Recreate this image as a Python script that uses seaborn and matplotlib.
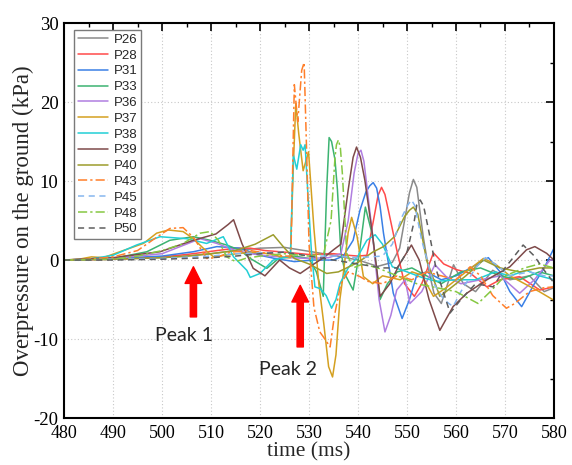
import numpy as np
import pandas as pd
import matplotlib
matplotlib.use("Agg")
import matplotlib.pyplot as plt
import seaborn as sns

sns.set_theme(style="white")
plt.rcParams['axes.unicode_minus'] = False
plt.rcParams['font.family'] = ['Liberation Serif', 'DejaVu Serif']

# ---------------- data (time in ms, overpressure in kPa) ----------------
P26_t = [480, 490, 500, 505, 510, 515, 520, 525, 530, 535, 540, 544, 547, 548.5, 549.5, 550.5, 551.3, 552,
         553.3, 554.5, 555.5, 557, 558.3, 559.5, 561.5, 564, 567.5, 571, 575, 578, 580]
P26_p = [0, 0.1, 0.3, 0.5, 0.8, 1.2, 1.5, 1.6, 1.1, 0.6, 0, -0.8, -0.3, 1.5, 5, 8.5, 10.2, 9.2,
         3, -1.5, -4.2, -5.5, -3, -0.6, -3, -4, -1.3, -2.5, -2, -4, -3.5]

P28_t = [480, 490, 500, 505, 510, 515, 518, 521, 525, 530, 535, 538, 540, 541.8, 543.3, 544.1, 544.8, 545.5,
         546.3, 547.9, 549.5, 551.5, 553, 555.4, 557.5, 560, 563, 566.3, 569, 573, 577.1, 580]
P28_p = [0, 0.1, 0.4, 0.7, 1.1, 1.5, 1.5, 1.2, 1.0, 0.7, 0.8, 0.6, 0.5, 0.6, 5.5, 8.2, 9.2, 8.3,
         6, 1.3, -3, -4.6, -3, 0.9, -0.5, -1.2, -1.7, -3.4, -2.5, -2.1, -3.8, -3.4]

P31_t = [480, 490, 500, 506.4, 511.2, 515.9, 520, 523, 527, 531, 535, 537, 539, 540.4, 541.6, 542.4, 543.1,
         543.8, 544.5, 545.2, 547.2, 549, 550.5, 552, 554, 557, 560, 563, 566.6, 569, 571, 573.4, 576, 578, 580]
P31_p = [0, 0.2, 0.5, 1.05, 1.7, 1.5, 0.6, 0.2, -0.2, 0, 0, 0.5, 2.5, 6.3, 8.6, 9.4, 9.8,
         9.1, 6.8, 3.4, -4.2, -7.4, -5, -1.9, -1.5, -2.5, -2, -1, 0.3, -1.5, -4, -5.9, -3, -1, 1.5]

P33_t = [480, 490, 496.9, 501.6, 506.4, 509.8, 513.2, 516, 518, 521.4, 524, 527, 530, 531.5, 532.9,
         533.6, 534.1, 534.6, 535.3, 535.8, 536.5, 537.5, 539, 540.3, 541.5, 543, 544.5, 546, 548,
         551, 554, 557, 561, 565, 569, 573, 577, 580]
P33_p = [0, 0.2, 1.05, 2.5, 2.95, 2.5, 1.9, 1.2, 0.2, -1.05, 0.3, 0.5, 0.2, -1.5, -4.6,
         8.9, 15.5, 15, 12.7, 8.9, 1, -2, -3.8, 1, 6.7, 3, -5, -3, -1.5,
         -1, -2, -3, -1.5, -1, -2, -2.5, -1.5, -2]

P36_t = [480, 490, 500, 507.8, 511.2, 514.6, 518, 522, 526, 530, 534, 536.5, 538, 539.2, 540, 540.6, 541.2,
         541.9, 543, 544.3, 545.5, 546.7, 547.9, 549.6, 550.6, 553, 555.7, 558, 561, 565, 569, 573, 576,
         579.2, 580]
P36_p = [0, 0.2, 0.8, 2.7, 2.1, 1.3, 0.8, 0.5, 0.3, 0.2, 0.3, 0.8, 5, 11, 13.5, 13.9, 12.5,
         8.9, 3, -5, -9.1, -7, -3.8, -2.5, -5.5, -4, -0.6, -2.1, -3, -2.5, -2, -4.2, -2.5,
         0, 0]

P37_t = [480, 483, 485.6, 488, 491.4, 496.2, 498.9, 501.3, 504.3, 506.4, 508.4, 510.5, 514, 518, 522,
         525, 526.2, 526.8, 527.3, 527.9, 528.8, 529.9, 531, 532, 533, 534, 534.8, 535.5, 536.3, 537,
         538, 538.7, 539.8, 541.1, 543, 545, 548.6, 551, 553, 555.4, 558, 561, 565.6, 568, 571, 574, 577, 580]
P37_p = [0, 0.1, 0.4, 0.3, 1.05, 2.1, 3.4, 3.8, 3.6, 2.7, 1.5, 0.4, 0.7, 1.0, 0.8,
         0.3, 0.3, 12, 19.8, 16, 11.3, 13.7, 4, -3, -8, -13.5, -14.8, -12, -5, -1.7,
         3.5, 5.4, 3, -2.1, -3, -2, -2.5, -1.5, -1.9, -4.6, -3.5, -2, 0.2, -0.5, -2, -3, -4, -5.1]

P38_t = [480, 485, 490, 494.8, 499.6, 505, 509.1, 512.5, 514.6, 517.3, 518, 520, 522.7, 525, 526.2,
         526.8, 527.5, 528.3, 528.8, 529.2, 529.8, 530.5, 531.2, 532.2, 533.5, 534.6, 535.5, 536.3, 538,
         540, 541.8, 543.5, 545, 547, 550, 553, 556, 560, 564, 568, 571, 574.4, 577, 580]
P38_p = [0, 0.1, 0.6, 1.9, 2.95, 2.7, 2.1, 2.95, 0.4, -1.3, -2.2, -1.7, 0, 0.3, 0.5,
         13.3, 11.5, 14.6, 13.9, 14.6, 8, 1, -3.4, -3.6, -4.5, -6.1, -5, -3, -1,
         0.5, 2.5, 3.2, 2, -0.85, -1.5, -2.2, -2.7, -2.5, -2.5, -1.5, -2, -1.3, -2, -2.5]

P39_t = [480, 490, 499.6, 506.4, 511, 513.5, 514.6, 516.3, 518.6, 521, 524, 526, 528.2, 531, 533, 535,
         536.5, 538, 539, 539.7, 540.5, 541.4, 543, 544.5, 546.5, 548.5, 550.9, 552.5, 554.5, 556.7,
         559.4, 562.2, 566.3, 571, 574.4, 576.1, 578.5, 580]
P39_p = [0, 0.3, 1.05, 2.5, 3.3, 4.5, 5.1, 2.1, -1.05, -2.0, 0, -1, -1.7, -0.5, 0.3, 1.3,
         2, 8.9, 13, 14.3, 13, 10.1, 3, -4.6, -3, -0.5, 1.9, 0, -5, -8.9,
         -5.9, -4.2, -2.5, -0.85, 1.3, 1.7, 0.85, 0]

P40_t = [480, 490, 500, 505, 510, 515, 519, 522.7, 525, 527, 530, 533.6, 536, 540, 543, 545.2, 547.5,
         549.5, 550.5, 551.3, 552.2, 554, 556.7, 559, 562, 565.6, 569, 573, 577, 580]
P40_p = [0, 0.1, 0.3, 0.5, 0.8, 1.2, 2.0, 3.2, 1.5, 0.2, -0.5, -1.7, -1.5, -0.3, 1, 1.7, 3,
         5.5, 6.3, 6.7, 5.8, 0, -4.6, -3.5, -2, 0, -1, -1.5, -1, -1]

P43_t = [480, 485, 490, 495, 498, 501.6, 504.3, 506.5, 509.1, 511, 514, 518, 522, 525, 526.3, 527,
         527.7, 528.5, 529, 529.5, 530, 531, 532.2, 532.9, 534.3, 535.2, 536.5, 538, 540.4, 542, 545,
         548, 551, 554, 557, 560, 562.9, 565, 567.5, 570.3, 572, 575, 578, 580]
P43_p = [0, 0.1, 0.4, 1.2, 2.5, 4.0, 4.1, 2.8, 0.2, 0.3, 1.0, 1.2, 0.8, 0.5, 0.5, 22.2,
         17.5, 24, 25, 14, 2, -6, -9.1, -9.7, -11, -7, -3, -1.5, -2.1, -2.7, -3,
         -2, -2.5, -1.5, -2, -2.5, -0.85, -2, -4.5, -6.1, -5.5, -4, -3.5, -3.4]

P45_t = [480, 490, 500, 510, 515, 520, 525, 530, 535, 540, 545, 547, 549, 550.2, 550.9, 551.6, 553, 555.4,
         557.5, 559.4, 561, 564, 566, 568, 571, 575, 578, 580]
P45_p = [0, 0.1, 0.2, 0.5, 0.8, 0.9, 1.0, 0.5, 0.5, 0.3, 0.5, 2, 5.5, 7.0, 7.6, 6.9, 2.5, -2.9,
         -5, -5.9, -4, -1, 0.3, -0.5, -2, -1.5, -2, -2]

P48_t = [480, 490, 495, 500, 504, 507.8, 509.8, 511.5, 513.2, 515, 517, 520, 525, 530, 533, 534.5,
         535.3, 535.6, 536, 536.4, 536.8, 537.7, 539, 541, 544, 548, 552, 556, 560, 564.5, 567, 570,
         574, 577, 580]
P48_p = [0, 0.1, 0.5, 1.2, 2.0, 3.4, 3.6, 2.5, 0.4, -0.2, 0.2, 0.5, 0.8, 0.5, 0.8, 5,
         13, 14.6, 15.2, 14.2, 11, 0.85, -1, -0.5, -1, -2, -3, -3.5, -4, -5.5, -4, -2,
         -1, -0.5, -1]

P50_t = [480, 490, 500, 510, 515, 520, 525, 530, 535, 540, 545, 548, 550, 551.5, 552, 552.7, 553.4, 554.5,
         556, 558.8, 561, 564, 567.6, 570, 573.7, 576, 578, 580]
P50_p = [0, 0, 0.1, 0.3, 0.5, 0.8, 1.0, 0.5, 0, -0.5, -1, -1, 1, 5, 7.0, 7.6, 6.8, 3.5,
         -1.3, -6.7, -5, -3, -3.4, -1, 1.9, 0.5, -1.3, -2.9]

names = ["P26", "P28", "P31", "P33", "P36", "P37", "P38", "P39", "P40", "P43", "P45", "P48", "P50"]
times = [P26_t, P28_t, P31_t, P33_t, P36_t, P37_t, P38_t, P39_t, P40_t, P43_t, P45_t, P48_t, P50_t]
press = [P26_p, P28_p, P31_p, P33_p, P36_p, P37_p, P38_p, P39_p, P40_p, P43_p, P45_p, P48_p, P50_p]

colors = ["#8a8a8a", "#ff4a4a", "#3a80e6", "#3cb371", "#b07ee0", "#d4a020", "#22cfd6",
          "#7e4a4a", "#9c9c2c", "#ff7f2a", "#86b6ef", "#86c842", "#5e5e5e"]
dashes = ["-", "-", "-", "-", "-", "-", "-", "-", "-",
          (0, (6, 2, 1.5, 2)), (0, (4, 3)), (0, (6, 2, 1.5, 2)), (0, (4, 3))]

x_ticks = [480, 490, 500, 510, 520, 530, 540, 550, 560, 570, 580]
y_ticks = [-20, -10, 0, 10, 20, 30]

# ---------------- figure ----------------
fig = plt.figure(figsize=(5.72, 4.65), dpi=100)
ax = fig.add_axes([0.112, 0.101, 0.8565, 0.8495])

for name, t, p, c, d in zip(names, times, press, colors, dashes):
    df = pd.DataFrame({"t": t, "p": p})
    sns.lineplot(data=df, x="t", y="p", ax=ax, color=c, linewidth=1.1,
                 estimator=None, label=name, linestyle=d)

ax.set_xlim(480, 580)
ax.set_ylim(-20, 30)
ax.set_xticks(x_ticks)
ax.set_yticks(y_ticks)
ax.set_xticks(np.arange(485, 580, 10), minor=True)
ax.set_yticks(np.arange(-15, 30, 10), minor=True)
ax.set_xticklabels([str(v) for v in x_ticks], fontsize=13)
ax.set_yticklabels([str(v) for v in y_ticks], fontsize=13.5)
ax.tick_params(which='both', direction='in', top=True, right=True, colors='black')
ax.tick_params(which='major', length=6, width=1.2)
ax.tick_params(axis='x', which='major', pad=5)
ax.tick_params(axis='y', which='major', pad=4)
ax.tick_params(which='minor', length=3, width=1.0)
ax.grid(True, which='major', linestyle=(0, (1, 2)), color='#c8c8c8', linewidth=0.8)
for s in ax.spines.values():
    s.set_color('black')
    s.set_linewidth(1.5)

ax.set_xlabel("time (ms)", fontsize=15.5, labelpad=0.5)
ax.set_ylabel("Overpressure on the ground (kPa)", fontsize=16.5, labelpad=0)

leg = ax.legend(loc='upper left', bbox_to_anchor=(0.015, 0.99),
                frameon=True, fancybox=False, edgecolor='#7a7a7a', framealpha=1,
                labelspacing=0.27, handlelength=2.3, handletextpad=0.4, borderpad=0.3,
                borderaxespad=0.2, prop={'family': 'Liberation Sans', 'size': 9.5})
leg.get_frame().set_linewidth(1.0)

# arrows and annotations
arrow_kw = dict(facecolor='red', edgecolor='red', width=4.5, headwidth=12, headlength=12, shrink=0)
ax.annotate('', xy=(506.4, -0.85), xytext=(506.4, -7.2), arrowprops=arrow_kw)
ax.annotate('', xy=(528.2, -3.2), xytext=(528.2, -11.0), arrowprops=arrow_kw)
ax.text(504.5, -9.6, "Peak 1", ha='center', va='center', fontsize=14, family=['Lato', 'DejaVu Sans'])
ax.text(525.7, -13.8, "Peak 2", ha='center', va='center', fontsize=14, family=['Lato', 'DejaVu Sans'])

fig.savefig("out.png", dpi=100)
